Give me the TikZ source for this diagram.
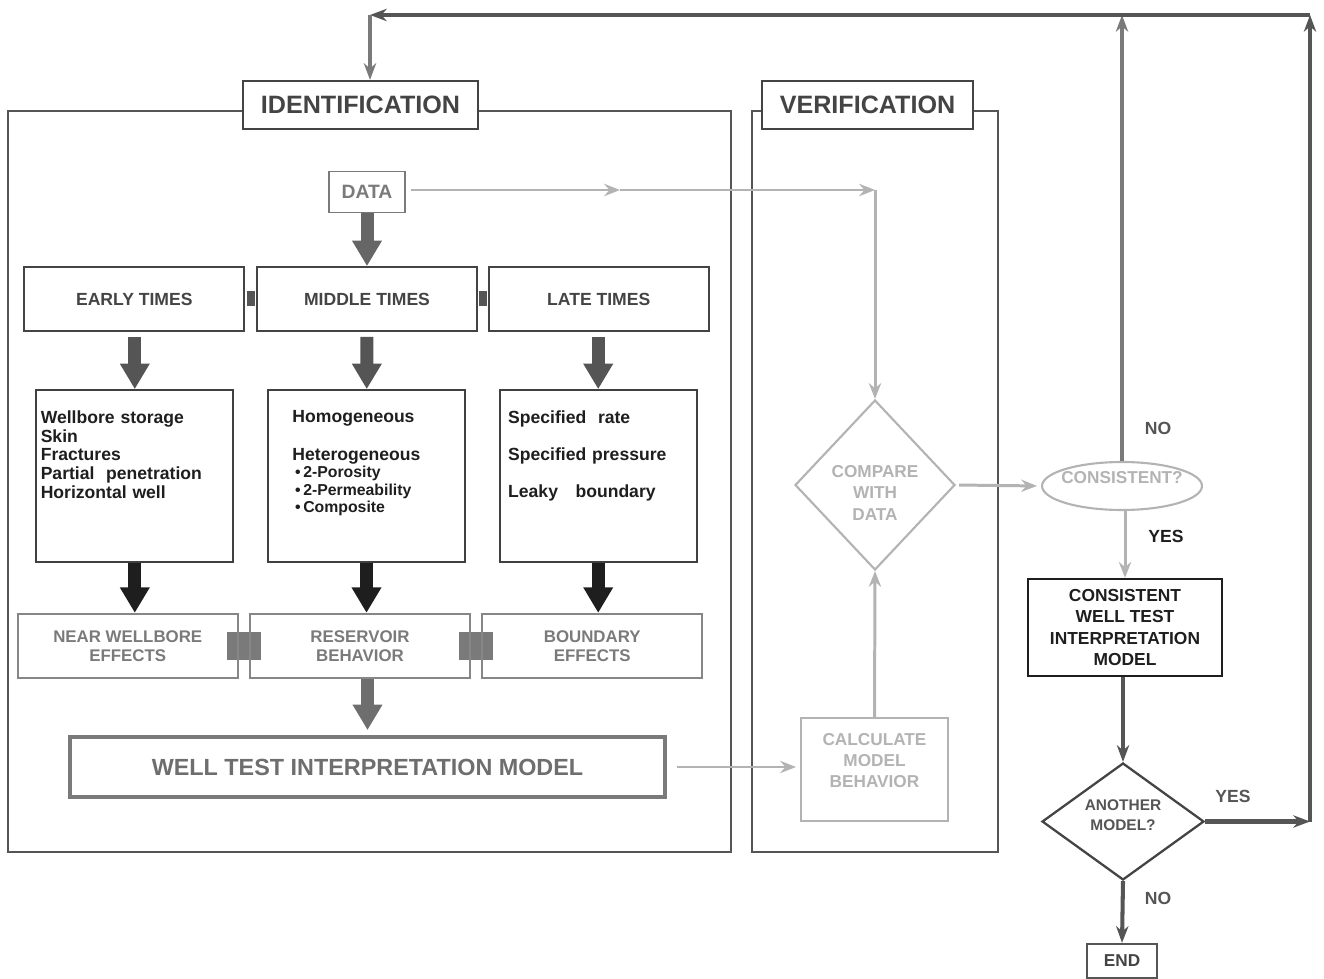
\documentclass[tikz,border=0pt]{standalone}
\usepackage{fontspec}
\setmainfont{Liberation Sans}
\usetikzlibrary{arrows.meta,positioning,shapes.geometric,backgrounds,calc}

\definecolor{titlegray}{HTML}{444444}
\definecolor{framegray}{HTML}{555555}
\definecolor{arrowgray}{HTML}{666666}
\definecolor{effectgray}{HTML}{7A7A7A}
\definecolor{litegray}{HTML}{B3B3B3}
\definecolor{inkblack}{HTML}{1E1E1E}

\tikzset{
  frame/.style={draw=framegray, line width=0.7pt},
  titlebox/.style={draw=titlegray, line width=1.2pt, fill=white, text=titlegray,
    minimum height=0.96cm, font=\fontsize{14.3pt}{16pt}\selectfont\bfseries},
  timebox/.style={draw=titlegray, line width=1pt, text=titlegray, minimum width=4.4cm,
    minimum height=1.28cm, font=\fontsize{10pt}{11pt}\selectfont\bfseries},
  infobox/.style={draw=inkblack!85, line width=1pt, minimum width=3.94cm, minimum height=3.44cm},
  infotext/.style={anchor=north west, inner sep=0pt, text width=3.8cm, align=left,
    text=inkblack, font=\fontsize{10pt}{10.7pt}\selectfont\bfseries},
  effectbox/.style={draw=effectgray!90, line width=1.3pt, text=effectgray, minimum width=4.4cm,
    minimum height=1.28cm, align=center, font=\fontsize{9.6pt}{10.8pt}\selectfont\bfseries},
  litebox/.style={draw=litegray, line width=1.2pt, text=litegray, align=center,
    font=\fontsize{9.8pt}{12pt}\selectfont\bfseries},
  darkbox/.style={draw=inkblack, line width=1.4pt, text=inkblack, align=center,
    font=\fontsize{9.9pt}{12pt}\selectfont\bfseries},
  blockarrow/.style={line width=7.4pt, -{Triangle[width=16pt,length=14.5pt]}},
  thinarrow/.style={line width=1.7pt, -{Stealth[length=9pt,width=7pt,inset=3pt]}},
  backarrow/.style={draw=framegray, line width=2.3pt, -{Stealth[length=9.5pt,width=7pt,inset=3pt]}},
  answer/.style={text=framegray, font=\fontsize{10pt}{12pt}\selectfont\bfseries}
}

\begin{document}
\begin{tikzpicture}[x=0.02cm, y=-0.02cm]
  \useasboundingbox (0,0) rectangle (1324,979);

  % the two panels
  \draw[frame] (8,111) rectangle (731,852);
  \draw[frame] (752,111) rectangle (998,852);
  \node[titlebox, minimum width=4.7cm] (ident) at (360.5,105) {IDENTIFICATION};
  \node[titlebox, minimum width=4.22cm] (verif) at (867.5,105) {VERIFICATION};

  % identification
  \node[draw=effectgray, line width=1pt, text=effectgray, minimum width=1.52cm, minimum height=0.82cm,
        font=\fontsize{11pt}{12pt}\selectfont\bfseries] (data) at (367,192) {DATA};

  \node[timebox] (middle) at (367,299) {MIDDLE TIMES\\[-12pt]\mbox{}};
  \node[timebox, left=0.22cm of middle] (early) {EARLY TIMES\\[-12pt]\mbox{}};
  \node[timebox, right=0.2cm of middle] (late) {LATE TIMES\\[-12pt]\mbox{}};

  \node[infobox] (middleinfo) at (366.5,476) {};
  \node[infobox, left=0.66cm of middleinfo] (earlyinfo) {};
  \node[infobox, right=0.66cm of middleinfo] (lateinfo) {};
  \node[infotext, xshift=0.1cm, yshift=-0.42cm] (earlytext) at (earlyinfo.north west)
    {Wellbore storage\\ Skin\\ Fractures\\ Partial\ \ penetration\\ Horizontal\ well};
  \node[infotext, xshift=0.5cm, yshift=-0.42cm] (middletext) at (middleinfo.north west)
    {Homogeneous\\[11pt] Heterogeneous\par
     {\fontsize{9pt}{9.8pt}\selectfont\,•\,2-Porosity\\ \,•\,2-Permeability\\ \,•\,Composite\par}};
  \node[infotext, xshift=0.18cm, yshift=-0.42cm] (latetext) at (lateinfo.north west)
    {Specified\ \ rate\\[10.5pt] Specified pressure\\[10.5pt] Leaky\ \ \ boundary};

  \node[effectbox] (reservoir) at (360,646) {RESERVOIR\\BEHAVIOR};
  \node[effectbox, left=0.2cm of reservoir] (nearwb) {NEAR WELLBORE\\EFFECTS};
  \node[effectbox, right=0.2cm of reservoir] (boundary) {BOUNDARY\\EFFECTS};

  \node[draw=effectgray, line width=2.2pt, text=effectgray!90!black, minimum width=11.9cm, minimum height=1.2cm,
        font=\fontsize{13.3pt}{15pt}\selectfont\bfseries] (wtim) at (367.5,767) {WELL TEST INTERPRETATION MODEL};

  % joints between the boxes
  \begin{scope}[on background layer]
    \fill[framegray] ($(early.east)!0.5!(middle.west)$) ++(-4,-7.5) rectangle ++(8,15);
    \fill[framegray] ($(middle.east)!0.5!(late.west)$) ++(-4,-7.5) rectangle ++(8,15);
    \fill[effectgray] ($(nearwb.east)!0.5!(reservoir.west)$) ++(-17,-14) rectangle ++(34,28);
    \fill[effectgray] ($(reservoir.east)!0.5!(boundary.west)$) ++(-17,-14) rectangle ++(34,28);
  \end{scope}

  \draw[blockarrow, arrowgray] (data) -- (middle);
  \draw[blockarrow, framegray, shorten <=0.1cm] (early.south -| earlyinfo.north) -- (earlyinfo);
  \draw[blockarrow, framegray, shorten <=0.1cm] (middle) -- (middleinfo);
  \draw[blockarrow, framegray, shorten <=0.1cm] (late.south -| lateinfo.north) -- (lateinfo);
  \draw[blockarrow, inkblack] (earlyinfo.south) -- (earlyinfo.south |- nearwb.north);
  \draw[blockarrow, inkblack] (middleinfo.south) -- (middleinfo.south |- reservoir.north);
  \draw[blockarrow, inkblack] (lateinfo.south) -- (lateinfo.south |- boundary.north);
  \draw[blockarrow, effectgray!90!black, shorten >=0.1cm] (wtim.north |- reservoir.south) -- (wtim.north);

  % verification
  \node[litebox, minimum width=2.94cm, minimum height=2.06cm] (calc) at (874.5,769.5)
    {CALCULATE\\MODEL\\BEHAVIOR\\[-2pt]\mbox{}};
  \node[litebox, diamond, aspect=0.94, inner sep=0pt, minimum width=3.2cm, minimum height=3.4cm]
    (compare) at (875,485) {COMPARE\\WITH\\DATA\\[-21pt]\mbox{}};
  \node[litebox, ellipse, inner sep=0pt, minimum width=3.2cm, minimum height=0.96cm]
    (consist) at (1122,486) {\raisebox{10pt}{\makebox[2cm]{CONSISTENT?}}};
  \node[darkbox, minimum width=3.88cm, minimum height=1.94cm] (cmodel) at (1125,627.5)
    {CONSISTENT\\WELL TEST\\INTERPRETATION\\MODEL};
  \node[diamond, draw=titlegray, line width=1.3pt, text=framegray, aspect=1.4, inner sep=0pt,
        minimum width=3.24cm, minimum height=2.34cm, align=center,
        font=\fontsize{8.8pt}{11.3pt}\selectfont\bfseries] (another) at (1123,821.5) {ANOTHER\\MODEL?\\[-4pt]\mbox{}};
  \node[draw=framegray, line width=1.3pt, text=titlegray, minimum width=1.4cm, minimum height=0.68cm,
        font=\fontsize{9.8pt}{11pt}\selectfont\bfseries] (endnode) at (1122,961) {END};

  \coordinate (databend) at (compare.north |- 0,190);
  \coordinate (datamid) at (620,190);
  \coordinate (yesturn) at (1310,821.5);
  \coordinate (topright) at (1310,15);
  \coordinate (topleft) at (370,15);

  \draw[thinarrow, litegray, shorten <=0.1cm] (data.east |- datamid) -- (datamid);
  \draw[thinarrow, litegray] (datamid) -- (databend);
  \draw[thinarrow, litegray] (databend) -- (compare.north);
  \draw[thinarrow, litegray] (calc.north) -- (compare.south);
  \draw[thinarrow, litegray, shorten <=0.06cm, shorten >=0.08cm] (compare.east) -- (consist.west);
  \draw[thinarrow, litegray, shorten <=0.2cm, shorten >=0.08cm] (wtim.east) -- (wtim.east -| calc.west);
  \draw[thinarrow, litegray] (cmodel.north |- consist.south) -- (cmodel.north);

  % answers and the loop back
  \draw[backarrow] (another.north |- cmodel.south) -- (another.north);
  \draw[backarrow] (another.south) -- (endnode.north);
  \draw[backarrow] (another.east) -- (yesturn);
  \draw[backarrow] (yesturn) -- (topright);
  \draw[backarrow, draw=effectgray] (consist.north) -- (consist.north |- topright);
  \draw[backarrow] (topright) -- (topleft);
  \draw[backarrow, draw=effectgray] (topleft) -- (topleft |- ident.north);

  \node[answer] (noup) at (1158,428) {NO};
  \node[answer, text=inkblack] (yesdown) at (1166,536) {YES};
  \node[answer] (yesright) at (1233,796) {YES};
  \node[answer] (nodown) at (1158,898) {NO};
\end{tikzpicture}
\end{document}
